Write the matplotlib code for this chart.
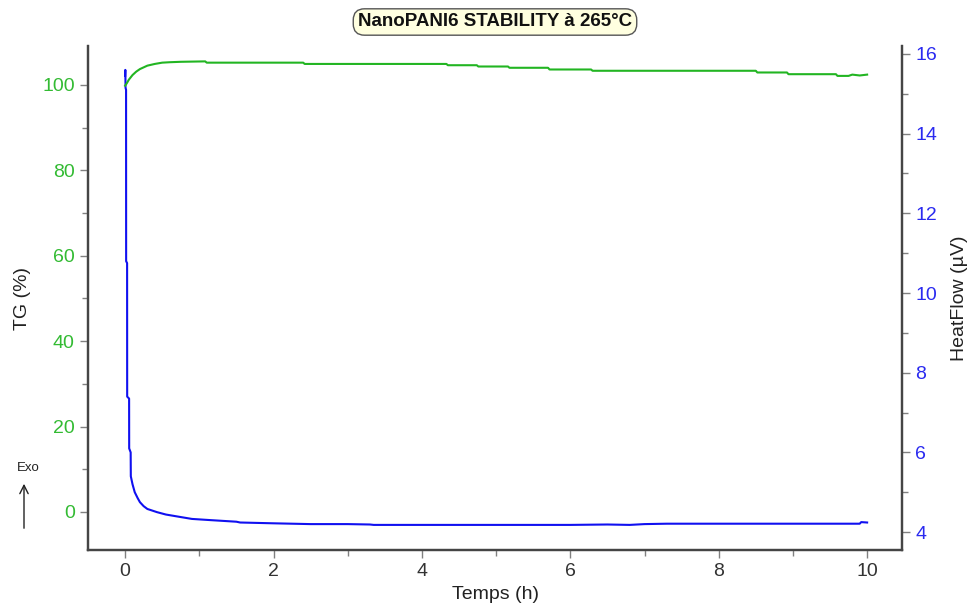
import matplotlib
matplotlib.use("Agg")
import matplotlib.pyplot as plt
from matplotlib.ticker import MultipleLocator

plt.rcParams['font.family'] = ['Liberation Sans', 'DejaVu Sans']

# TG (%) vs time (h)
tg_time = [0.0, 0.02, 0.05, 0.1, 0.15, 0.2, 0.3, 0.4, 0.5, 0.6, 0.75, 1.08, 1.1, 2.4, 2.42,
           4.33, 4.35, 4.74, 4.76, 5.16, 5.18, 5.7, 5.72, 6.28, 6.3, 8.5, 8.52, 8.92, 8.94,
           9.58, 9.6, 9.75, 9.8, 9.85, 9.9, 10.0]
tg_vals = [99.8, 100.3, 101.2, 102.3, 103.1, 103.7, 104.5, 104.9, 105.2, 105.3, 105.4, 105.5, 105.2,
           105.2, 104.9, 104.9, 104.6, 104.6, 104.3, 104.3, 104.0, 104.0, 103.6, 103.6, 103.3,
           103.3, 102.9, 102.9, 102.5, 102.5, 102.1, 102.1, 102.4, 102.3, 102.2, 102.4]

# HeatFlow (µV) vs time (h)
hf_time = [0.0, 0.003, 0.006, 0.013, 0.014, 0.027, 0.028, 0.054, 0.055, 0.075, 0.077, 0.1, 0.13,
           0.17, 0.2, 0.25, 0.3, 0.43, 0.55, 0.74, 0.9, 1.15, 1.5, 1.55, 2.0, 2.5, 3.0, 3.3, 3.35,
           4.0, 5.0, 6.0, 6.5, 6.8, 7.0, 7.3, 8.0, 9.0, 9.9, 9.92, 10.0]
hf_vals = [15.45, 15.6, 15.15, 15.1, 10.8, 10.75, 7.4, 7.35, 6.1, 6.0, 5.4, 5.2, 5.0,
           4.85, 4.75, 4.65, 4.58, 4.5, 4.44, 4.38, 4.33, 4.3, 4.26, 4.24, 4.22, 4.2, 4.2, 4.19, 4.18,
           4.18, 4.18, 4.18, 4.19, 4.18, 4.2, 4.21, 4.21, 4.21, 4.21, 4.25, 4.24]

x_ticks = [0, 2, 4, 6, 8, 10]
tg_ticks = [0, 20, 40, 60, 80, 100]
hf_ticks = [4, 6, 8, 10, 12, 14, 16]

green = '#22b522'
green_lbl = '#33bb33'
blue = '#1010f0'
blue_lbl = '#2a2af0'
spine_c = '#454545'

fig = plt.figure(figsize=(9.68, 6.08), dpi=100)
ax = fig.add_axes([88/968, 1-550/608, (902-88)/968, (550-46)/608])
ax2 = ax.twinx()

ax.plot(tg_time, tg_vals, color=green, lw=1.5, zorder=3)
ax2.plot(hf_time, hf_vals, color=blue, lw=1.5)

ax.set_zorder(ax2.get_zorder() + 1)
ax.patch.set_visible(False)

ax.set_xlim(-0.5, 10.47)
ax.set_ylim(-8.9, 109.1)
ax2.set_ylim(3.55, 16.2)

ax.set_xticks(x_ticks)
ax.xaxis.set_minor_locator(MultipleLocator(1))
ax.set_yticks(tg_ticks)
ax.yaxis.set_minor_locator(MultipleLocator(10))
ax2.set_yticks(hf_ticks)
ax2.yaxis.set_minor_locator(MultipleLocator(1))

for a in (ax, ax2):
    a.spines['top'].set_visible(False)
    for s in ('left', 'right', 'bottom'):
        a.spines[s].set_color(spine_c)
        a.spines[s].set_linewidth(1.6)
    a.tick_params(which='major', length=6, width=1, color='#808080', direction='out', labelsize=14)
    a.tick_params(which='minor', length=4, width=1, color='#808080', direction='out')

ax.tick_params(axis='y', labelcolor=green_lbl)
ax.tick_params(axis='x', labelcolor='#333333')
ax2.tick_params(axis='y', labelcolor=blue_lbl)

ax.set_xlabel('Temps (h)', fontsize=14, color='#222222', labelpad=4)
ax.set_ylabel('TG (%)', fontsize=14, color='#222222', labelpad=8)
ax2.set_ylabel('HeatFlow (µV)', fontsize=14, color='#222222', labelpad=10)

fig.text(495/968, 1-22/608, 'NanoPANI6 STABILITY à 265°C', ha='center', va='center',
         fontsize=13.5, fontweight='bold', color='#111111',
         bbox=dict(boxstyle='round,pad=0.25,rounding_size=0.6', fc='#ffffe0', ec='#555555', lw=1))

fig.text(28/968, 1-468/608, 'Exo', ha='center', va='center', fontsize=9.5, color='#222222')
fig.add_artist(matplotlib.patches.FancyArrowPatch((24/968, 1-531/608), (24/968, 1-481/608),
               transform=fig.transFigure, arrowstyle='->,head_width=3,head_length=6',
               color='#222222', lw=1))

fig.savefig('out.png', dpi=100)
